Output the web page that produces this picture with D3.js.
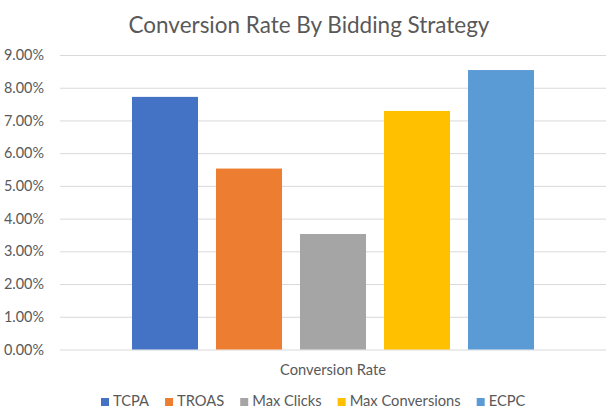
<!DOCTYPE html>
<html><head><meta charset="utf-8">
<script src="https://cdn.jsdelivr.net/npm/d3@7"></script>
<style>body{margin:0;background:#fff;}svg{display:block;font-family:Lato,"Open Sans",sans-serif;}</style>
</head><body><svg id="c" width="616" height="413"></svg>
<script>
const categories = ["Conversion Rate"];
const seriesNames = ["TCPA", "TROAS", "Max Clicks", "Max Conversions", "ECPC"];
const seriesValues = [0.0772, 0.0553, 0.0353, 0.0729, 0.0854];
const seriesColors = ["#4472C4", "#ED7D31", "#A5A5A5", "#FFC000", "#5B9BD5"];
const yTicks = [0, 0.01, 0.02, 0.03, 0.04, 0.05, 0.06, 0.07, 0.08, 0.09];
const title = "Conversion Rate By Bidding Strategy";

const svg = d3.select("#c");
const L = 60, R = 606, T = 55, B = 349.5;
const y = d3.scaleLinear().domain([0, 0.09]).range([B, T]);
const x0 = d3.scaleBand().domain(categories).range([L, R]).paddingOuter(0.15).paddingInner(0);
const x1 = d3.scaleBand().domain(seriesNames).range([0, x0.bandwidth()]).paddingInner(0.214).paddingOuter(0.107);

// gridlines + tick labels
const yAxis = d3.axisLeft(y).tickValues(yTicks).tickFormat(d3.format(".2%")).tickSize(-(R - L)).tickPadding(16);
const g = svg.append("g").attr("transform", `translate(${L},0)`).call(yAxis);
g.select(".domain").remove();
g.selectAll(".tick line").attr("stroke", "#d9d9d9").attr("stroke-width", 1);
g.selectAll(".tick text").attr("fill", "#595959").attr("font-size", 14.4).attr("font-family", "Lato");

// bars
svg.append("g").selectAll("rect").data(seriesNames).join("rect")
  .attr("x", d => x0(categories[0]) + x1(d))
  .attr("width", x1.bandwidth())
  .attr("y", (d, i) => y(seriesValues[i]))
  .attr("height", (d, i) => y(0) - y(seriesValues[i]))
  .attr("fill", (d, i) => seriesColors[i]);

// title
const t = svg.append("text").attr("x", 309).attr("y", 33).attr("text-anchor", "middle")
  .attr("fill", "#595959").attr("font-size", 24).text(title);
const tw = t.node().getComputedTextLength();
t.attr("font-size", 24 * 361 / tw);

// category label
svg.append("text").attr("x", x0(categories[0]) + x0.bandwidth() / 2).attr("y", 375)
  .attr("text-anchor", "middle").attr("fill", "#595959").attr("font-size", 14.7).text(categories[0]);

// legend
const legend = svg.append("g");
let cx = 101;
seriesNames.forEach((n, i) => {
  legend.append("rect").attr("x", cx).attr("y", 398).attr("width", 8).attr("height", 8).attr("fill", seriesColors[i]);
  const tx = legend.append("text").attr("x", cx + 12).attr("y", 406).attr("fill", "#595959").attr("font-size", 14.7).text(n);
  cx = cx + 12 + tx.node().getComputedTextLength() + 16;
});
</script></body></html>
